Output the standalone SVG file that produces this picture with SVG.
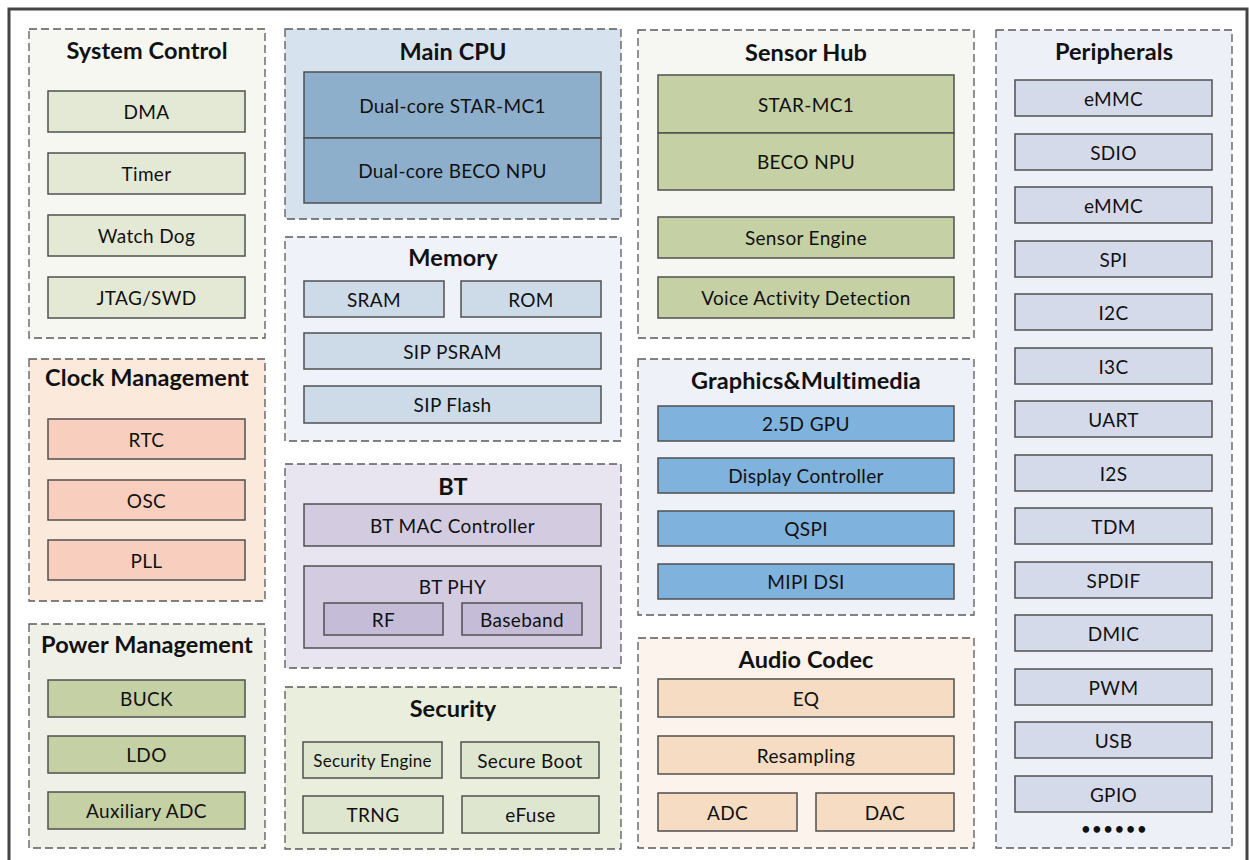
<svg xmlns="http://www.w3.org/2000/svg" width="1249" height="860" viewBox="0 0 1249 860">
<style>
.grp{stroke:#595959;stroke-width:1.3;stroke-dasharray:8 4}
.it{stroke:#505050;stroke-width:1.5}
.t{font-family:Lato,"Liberation Sans",sans-serif;font-size:19px;letter-spacing:0.35px;fill:#111;text-anchor:middle;dominant-baseline:central}
.ts{font-size:17px;letter-spacing:0.2px}
.h{font-family:Lato,"Liberation Sans",sans-serif;font-size:23.5px;letter-spacing:0.1px;font-weight:bold;fill:#111;text-anchor:middle}
.dots{font-family:Lato,"Liberation Sans",sans-serif;font-size:15px;font-weight:bold;letter-spacing:2.5px;fill:#111;text-anchor:middle;dominant-baseline:central}
.sc{fill:#e4e9d6}
.ck{fill:#f8cfbe}
.pm{fill:#c5d0a4}
.cpu{fill:#8eafcb}
.mem{fill:#cddbe9}
.bt{fill:#d3cce0}
.bt2{fill:#c5bcd7}
.sec{fill:#dfe6cf}
.sh{fill:#c5d0a4}
.gm{fill:#7fb2dc}
.ac{fill:#f6dcc3}
.pe{fill:#d5daeb}
</style>
<rect x="0" y="0" width="1249" height="860" fill="#ffffff"/>
<rect x="9" y="9" width="1238" height="870" fill="none" stroke="#444" stroke-width="3"/>

<g id="system-control">
<rect class="grp" x="29" y="29" width="236" height="309" fill="#f7f7f2"/>
<text class="h" x="147" y="59">System Control</text>
<rect class="it sc" x="48" y="91" width="197" height="41"/><text class="t" x="146.5" y="111.5">DMA</text>
<rect class="it sc" x="48" y="153" width="197" height="41"/><text class="t" x="146.5" y="173.5">Timer</text>
<rect class="it sc" x="48" y="215" width="197" height="41"/><text class="t" x="146.5" y="235.5">Watch Dog</text>
<rect class="it sc" x="48" y="277" width="197" height="41"/><text class="t" x="146.5" y="297.5">JTAG/SWD</text>
</g>

<g id="clock-management">
<rect class="grp" x="29" y="359" width="236" height="242" fill="#fbeadc"/>
<text class="h" x="147" y="386">Clock Management</text>
<rect class="it ck" x="48" y="419" width="197" height="40"/><text class="t" x="146.5" y="439">RTC</text>
<rect class="it ck" x="48" y="480" width="197" height="40"/><text class="t" x="146.5" y="500">OSC</text>
<rect class="it ck" x="48" y="540" width="197" height="40"/><text class="t" x="146.5" y="560">PLL</text>
</g>

<g id="power-management">
<rect class="grp" x="29" y="624" width="236" height="224" fill="#eff1e8"/>
<text class="h" x="147" y="653">Power Management</text>
<rect class="it pm" x="48" y="680" width="197" height="37"/><text class="t" x="146.5" y="698.5">BUCK</text>
<rect class="it pm" x="48" y="736" width="197" height="37"/><text class="t" x="146.5" y="754.5">LDO</text>
<rect class="it pm" x="48" y="792" width="197" height="37"/><text class="t" x="146.5" y="810.5">Auxiliary ADC</text>
</g>

<g id="main-cpu">
<rect class="grp" x="285" y="29" width="336" height="190" fill="#d6e2ee"/>
<text class="h" x="453" y="60">Main CPU</text>
<rect class="it cpu" x="304" y="72" width="297" height="66"/><text class="t" x="452.5" y="105">Dual-core STAR-MC1</text>
<rect class="it cpu" x="304" y="138" width="297" height="65"/><text class="t" x="452.5" y="170.5">Dual-core BECO NPU</text>
</g>

<g id="memory">
<rect class="grp" x="285" y="237" width="336" height="204" fill="#eff2f8"/>
<text class="h" x="453" y="266">Memory</text>
<rect class="it mem" x="304" y="281" width="140" height="36"/><text class="t" x="374" y="299">SRAM</text>
<rect class="it mem" x="461" y="281" width="140" height="36"/><text class="t" x="531" y="299">ROM</text>
<rect class="it mem" x="304" y="333" width="297" height="36"/><text class="t" x="452.5" y="351">SIP PSRAM</text>
<rect class="it mem" x="304" y="386" width="297" height="37"/><text class="t" x="452.5" y="404.5">SIP Flash</text>
</g>

<g id="bt">
<rect class="grp" x="285" y="464" width="336" height="204" fill="#e8e5f0"/>
<text class="h" x="453" y="495">BT</text>
<rect class="it bt" x="304" y="504" width="297" height="42"/><text class="t" x="452.5" y="525">BT MAC Controller</text>
<rect class="it bt" x="304" y="566" width="297" height="82"/><text class="t" x="452.5" y="586">BT PHY</text>
<rect class="it bt2" x="324" y="603" width="119" height="32"/><text class="t" x="383.5" y="619">RF</text>
<rect class="it bt2" x="462" y="603" width="120" height="32"/><text class="t" x="522" y="619">Baseband</text>
</g>

<g id="security">
<rect class="grp" x="285" y="687" width="336" height="162" fill="#eaeedd"/>
<text class="h" x="453" y="717">Security</text>
<rect class="it sec" x="303" y="742" width="139" height="36"/><text class="t ts" x="372.5" y="760">Security Engine</text>
<rect class="it sec" x="461" y="742" width="138" height="36"/><text class="t" x="530" y="760">Secure Boot</text>
<rect class="it sec" x="303" y="796" width="140" height="37"/><text class="t" x="373" y="814.5">TRNG</text>
<rect class="it sec" x="462" y="796" width="137" height="37"/><text class="t" x="530.5" y="814.5">eFuse</text>
</g>

<g id="sensor-hub">
<rect class="grp" x="638" y="30" width="336" height="308" fill="#f6f6f2"/>
<text class="h" x="806" y="61">Sensor Hub</text>
<rect class="it sh" x="658" y="75" width="296" height="58"/><text class="t" x="806" y="104">STAR-MC1</text>
<rect class="it sh" x="658" y="133" width="296" height="57"/><text class="t" x="806" y="161.5">BECO NPU</text>
<rect class="it sh" x="658" y="217" width="296" height="41"/><text class="t" x="806" y="237.5">Sensor Engine</text>
<rect class="it sh" x="658" y="277" width="296" height="41"/><text class="t" x="806" y="297.5">Voice Activity Detection</text>
</g>

<g id="graphics-multimedia">
<rect class="grp" x="638" y="359" width="336" height="256" fill="#eef2f8"/>
<text class="h" x="806" y="389">Graphics&amp;Multimedia</text>
<rect class="it gm" x="658" y="406" width="296" height="35"/><text class="t" x="806" y="423.5">2.5D GPU</text>
<rect class="it gm" x="658" y="458" width="296" height="35"/><text class="t" x="806" y="475.5">Display Controller</text>
<rect class="it gm" x="658" y="511" width="296" height="35"/><text class="t" x="806" y="528.5">QSPI</text>
<rect class="it gm" x="658" y="564" width="296" height="35"/><text class="t" x="806" y="581.5">MIPI DSI</text>
</g>

<g id="audio-codec">
<rect class="grp" x="638" y="638" width="336" height="210" fill="#fbf3ec"/>
<text class="h" x="806" y="668">Audio Codec</text>
<rect class="it ac" x="658" y="679" width="296" height="38"/><text class="t" x="806" y="698">EQ</text>
<rect class="it ac" x="658" y="736" width="296" height="38"/><text class="t" x="806" y="755">Resampling</text>
<rect class="it ac" x="658" y="793" width="139" height="38"/><text class="t" x="727.5" y="812">ADC</text>
<rect class="it ac" x="816" y="793" width="138" height="38"/><text class="t" x="885" y="812">DAC</text>
</g>

<g id="peripherals">
<rect class="grp" x="996" y="30" width="236" height="818" fill="#eef0f8"/>
<text class="h" x="1114" y="60">Peripherals</text>
<rect class="it pe" x="1015" y="80" width="197" height="36"/><text class="t" x="1113.5" y="98">eMMC</text>
<rect class="it pe" x="1015" y="134" width="197" height="36"/><text class="t" x="1113.5" y="152">SDIO</text>
<rect class="it pe" x="1015" y="187" width="197" height="36"/><text class="t" x="1113.5" y="205">eMMC</text>
<rect class="it pe" x="1015" y="241" width="197" height="36"/><text class="t" x="1113.5" y="259">SPI</text>
<rect class="it pe" x="1015" y="294" width="197" height="36"/><text class="t" x="1113.5" y="312">I2C</text>
<rect class="it pe" x="1015" y="348" width="197" height="36"/><text class="t" x="1113.5" y="366">I3C</text>
<rect class="it pe" x="1015" y="401" width="197" height="36"/><text class="t" x="1113.5" y="419">UART</text>
<rect class="it pe" x="1015" y="455" width="197" height="36"/><text class="t" x="1113.5" y="473">I2S</text>
<rect class="it pe" x="1015" y="508" width="197" height="36"/><text class="t" x="1113.5" y="526">TDM</text>
<rect class="it pe" x="1015" y="562" width="197" height="36"/><text class="t" x="1113.5" y="580">SPDIF</text>
<rect class="it pe" x="1015" y="615" width="197" height="36"/><text class="t" x="1113.5" y="633">DMIC</text>
<rect class="it pe" x="1015" y="669" width="197" height="36"/><text class="t" x="1113.5" y="687">PWM</text>
<rect class="it pe" x="1015" y="722" width="197" height="36"/><text class="t" x="1113.5" y="740">USB</text>
<rect class="it pe" x="1015" y="776" width="197" height="36"/><text class="t" x="1113.5" y="794">GPIO</text>
<text class="dots" x="1115" y="828">••••••</text>
</g>

<g id="connectors"></g>
</svg>
